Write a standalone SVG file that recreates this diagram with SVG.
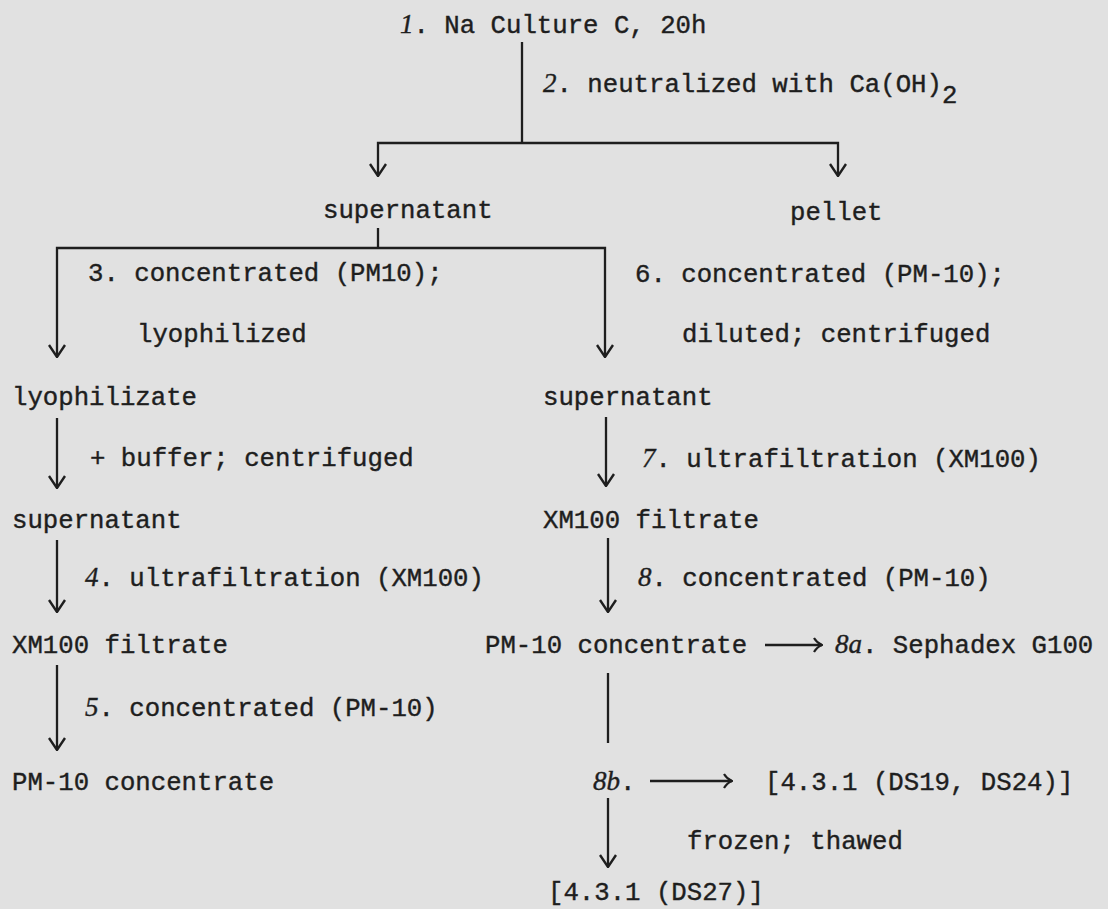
<svg xmlns="http://www.w3.org/2000/svg" width="1108" height="909" viewBox="0 0 1108 909">
<style>
text{font-family:"Liberation Mono","DejaVu Sans Mono",monospace;font-size:25.7px;fill:#1e1e1e;stroke:#1e1e1e;stroke-width:0.4}
.it{font-style:italic;font-family:"Liberation Serif",serif;font-size:27px}
.ln{stroke:#1e1e1e;stroke-width:2.3;fill:none}
</style>
<defs>
<marker id="ah" viewBox="0 0 20 20" refX="19" refY="10" markerWidth="20" markerHeight="20" markerUnits="userSpaceOnUse" orient="auto-start-reverse">
<path d="M7,2 L19,10 L7,18" fill="none" stroke="#1e1e1e" stroke-width="2.4"/>
</marker>
<marker id="ar" viewBox="0 0 20 20" refX="19" refY="10" markerWidth="20" markerHeight="20" markerUnits="userSpaceOnUse" orient="auto">
<path d="M11,3 Q14,8 19,10 Q14,12 11,17" fill="none" stroke="#1e1e1e" stroke-width="2.2"/>
</marker>
</defs>
<rect width="1108" height="909" fill="#e1e1e1"/>
<g id="connectors">
<path class="ln" d="M522,42 V143"/>
<path class="ln" d="M378,176 V143 H838 V176" marker-start="url(#ah)" marker-end="url(#ah)"/>
<path class="ln" d="M378,228 V248"/>
<path class="ln" d="M57,357 V248 H605 V357" marker-start="url(#ah)" marker-end="url(#ah)"/>
<path class="ln" d="M57,418 V488" marker-end="url(#ah)"/>
<path class="ln" d="M606,417 V486" marker-end="url(#ah)"/>
<path class="ln" d="M57,540 V612" marker-end="url(#ah)"/>
<path class="ln" d="M608,538 V612" marker-end="url(#ah)"/>
<path class="ln" d="M57,665 V750" marker-end="url(#ah)"/>
<path class="ln" d="M608,673 V743"/>
<path class="ln" d="M765,645 H822" marker-end="url(#ar)"/>
<path class="ln" d="M650,781 H732" marker-end="url(#ar)"/>
<path class="ln" d="M608,798 V867" marker-end="url(#ah)"/>
</g>
<g id="n1"><text x="400" y="33"><tspan class="it">1</tspan>. Na Culture C, 20h</text></g>
<g id="e2"><text x="543" y="92"><tspan class="it">2</tspan>. neutralized with Ca(OH)<tspan dy="11">2</tspan></text></g>
<g id="n-supernatant1"><text x="323" y="218">supernatant</text></g>
<g id="n-pellet"><text x="790" y="220">pellet</text></g>
<g id="e3"><text x="88" y="281">3. concentrated (PM10);</text><text x="137" y="342">lyophilized</text></g>
<g id="e6"><text x="635" y="282">6. concentrated (PM-10);</text><text x="682" y="342">diluted; centrifuged</text></g>
<g id="n-lyophilizate"><text x="12" y="405">lyophilizate</text></g>
<g id="n-supernatant2"><text x="543" y="405">supernatant</text></g>
<g id="e-buffer"><text x="90" y="466">+ buffer; centrifuged</text></g>
<g id="e7"><text x="642" y="467"><tspan class="it">7</tspan>. ultrafiltration (XM100)</text></g>
<g id="n-supernatant3"><text x="12" y="528">supernatant</text></g>
<g id="n-xm100-right"><text x="543" y="528">XM100 filtrate</text></g>
<g id="e4"><text x="85" y="586"><tspan class="it">4</tspan>. ultrafiltration (XM100)</text></g>
<g id="e8"><text x="638" y="586"><tspan class="it">8</tspan>. concentrated (PM-10)</text></g>
<g id="n-xm100-left"><text x="12" y="653">XM100 filtrate</text></g>
<g id="n-pm10-right"><text x="485" y="653">PM-10 concentrate</text></g>
<g id="n-8a"><text x="835" y="653"><tspan class="it">8a</tspan>. Sephadex G100</text></g>
<g id="e5"><text x="85" y="716"><tspan class="it">5</tspan>. concentrated (PM-10)</text></g>
<g id="n-pm10-left"><text x="12" y="790">PM-10 concentrate</text></g>
<g id="n-8b"><text x="593" y="790"><tspan class="it">8b</tspan>.</text></g>
<g id="n-ds19"><text x="765" y="790">[4.3.1 (DS19, DS24)]</text></g>
<g id="e-frozen"><text x="687" y="849">frozen; thawed</text></g>
<g id="n-ds27"><text x="548" y="900">[4.3.1 (DS27)]</text></g>
</svg>
